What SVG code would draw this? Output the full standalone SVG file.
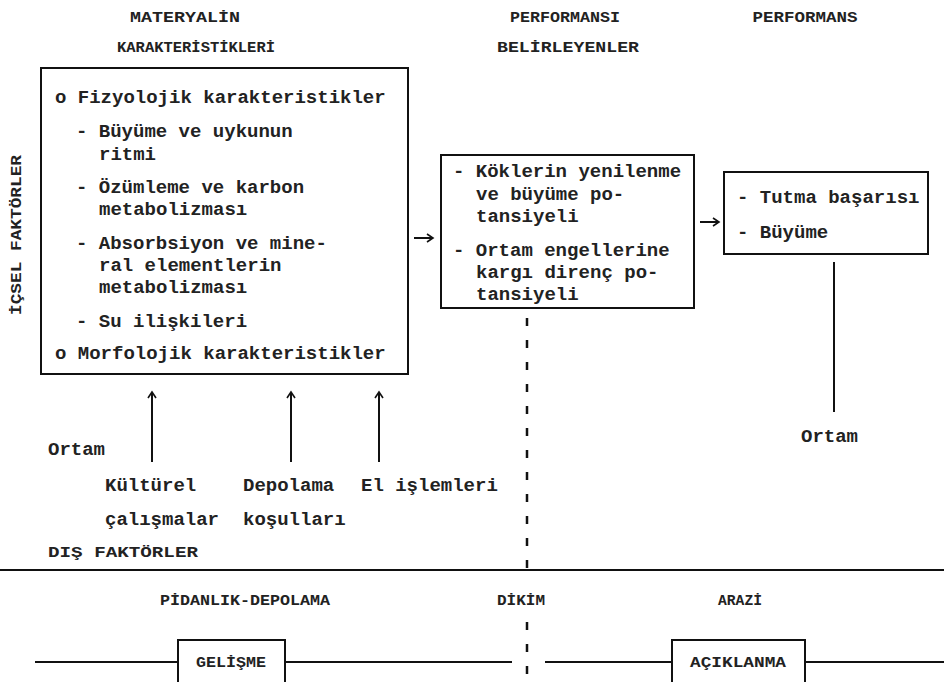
<svg xmlns="http://www.w3.org/2000/svg" width="944" height="682" viewBox="0 0 944 682">
<defs>
<style>
.t{font-family:"Liberation Mono","DejaVu Sans Mono",monospace;font-size:19px;font-weight:bold;fill:#222}
.h{font-family:"Liberation Mono","DejaVu Sans Mono",monospace;font-size:15px;font-weight:bold;fill:#222}
.box{fill:none;stroke:#111;stroke-width:2}
.ln{fill:none;stroke:#111;stroke-width:2}
.dash{fill:none;stroke:#111;stroke-width:2.5;stroke-dasharray:8 14}
</style>
<marker id="ah" markerWidth="10" markerHeight="10" refX="8" refY="5" orient="auto" markerUnits="userSpaceOnUse">
<path d="M2,1 L8,5 L2,9" fill="none" stroke="#111" stroke-width="1.6"/>
</marker>
</defs>
<rect width="944" height="682" fill="#fff"/>

<g id="headers">
<text class="h" x="185" y="22" text-anchor="middle" textLength="110" lengthAdjust="spacingAndGlyphs">MATERYALİN</text>
<text class="h" x="196" y="52" text-anchor="middle" textLength="158" lengthAdjust="spacingAndGlyphs">KARAKTERİSTİKLERİ</text>
<text class="h" x="565" y="22" text-anchor="middle" textLength="110" lengthAdjust="spacingAndGlyphs">PERFORMANSI</text>
<text class="h" x="568" y="52" text-anchor="middle" textLength="142" lengthAdjust="spacingAndGlyphs">BELİRLEYENLER</text>
<text class="h" x="805" y="22" text-anchor="middle" textLength="105" lengthAdjust="spacingAndGlyphs">PERFORMANS</text>
<text class="h" x="21" y="235" text-anchor="middle" transform="rotate(-90 21 235)" textLength="160" lengthAdjust="spacingAndGlyphs">İÇSEL FAKTÖRLER</text>
<text class="h" x="48" y="557" textLength="150" lengthAdjust="spacingAndGlyphs">DIŞ FAKTÖRLER</text>
<text class="h" x="245" y="605" text-anchor="middle" textLength="170" lengthAdjust="spacingAndGlyphs">PİDANLIK-DEPOLAMA</text>
<text class="h" x="521" y="605" text-anchor="middle" textLength="48" lengthAdjust="spacingAndGlyphs">DİKİM</text>
<text class="h" x="740" y="605" text-anchor="middle" textLength="44" lengthAdjust="spacingAndGlyphs">ARAZİ</text>
</g>

<g id="materyal">
<rect class="box" x="41" y="68" width="367" height="306"/>
<text class="t" x="55" y="103">o Fizyolojik karakteristikler</text>
<text class="t" x="76" y="137">- Büyüme ve uykunun</text>
<text class="t" x="99" y="160">ritmi</text>
<text class="t" x="76" y="193">- Özümleme ve karbon</text>
<text class="t" x="99" y="215">metabolizması</text>
<text class="t" x="76" y="249">- Absorbsiyon ve mine-</text>
<text class="t" x="99" y="271">ral elementlerin</text>
<text class="t" x="99" y="293">metabolizması</text>
<text class="t" x="76" y="327">- Su ilişkileri</text>
<text class="t" x="55" y="359">o Morfolojik karakteristikler</text>
</g>

<g id="belirleyenler">
<rect class="box" x="441" y="155" width="253" height="153"/>
<text class="t" x="453" y="177">- Köklerin yenilenme</text>
<text class="t" x="476" y="200">ve büyüme po-</text>
<text class="t" x="476" y="222">tansiyeli</text>
<text class="t" x="453" y="256">- Ortam engellerine</text>
<text class="t" x="476" y="278">kargı direnç po-</text>
<text class="t" x="476" y="300">tansiyeli</text>
</g>

<g id="performans">
<rect class="box" x="724" y="172" width="204" height="82"/>
<text class="t" x="737" y="203">- Tutma başarısı</text>
<text class="t" x="737" y="238">- Büyüme</text>
</g>

<g id="dis-faktorler">
<text class="t" x="48" y="455">Ortam</text>
<text class="t" x="105" y="491">Kültürel</text>
<text class="t" x="105" y="525">çalışmalar</text>
<text class="t" x="243" y="491">Depolama</text>
<text class="t" x="243" y="525">koşulları</text>
<text class="t" x="361" y="491">El işlemleri</text>
<text class="t" x="801" y="442">Ortam</text>
</g>

<g id="gelisme">
<rect class="box" x="178" y="640" width="107" height="50"/>
<text class="h" x="231" y="667" text-anchor="middle" textLength="70" lengthAdjust="spacingAndGlyphs">GELİŞME</text>
</g>

<g id="aciklanma">
<rect class="box" x="672" y="640" width="133" height="50"/>
<text class="h" x="738" y="667" text-anchor="middle" textLength="96" lengthAdjust="spacingAndGlyphs">AÇIKLANMA</text>
</g>

<g id="connectors">
<path class="ln" d="M414,238 H433" marker-end="url(#ah)"/>
<path class="ln" d="M700,222 H719" marker-end="url(#ah)"/>
<path class="ln" d="M152,462 V392" marker-end="url(#ah)"/>
<path class="ln" d="M291,462 V392" marker-end="url(#ah)"/>
<path class="ln" d="M379,462 V392" marker-end="url(#ah)"/>
<path class="ln" d="M834,262 V412"/>
<path class="ln" d="M0,570 H944"/>
<path class="dash" d="M527,318 V576"/>
<path class="dash" d="M527,622 V682"/>
<path class="ln" d="M35,662 H178"/>
<path class="ln" d="M285,662 H512"/>
<path class="ln" d="M545,662 H672"/>
<path class="ln" d="M805,662 H944"/>
</g>
</svg>
